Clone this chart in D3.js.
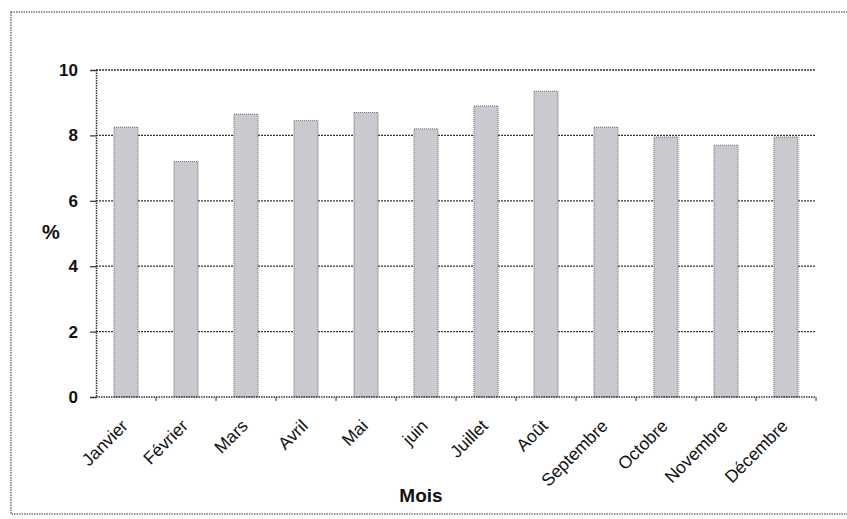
<!DOCTYPE html>
<html>
<head>
<meta charset="utf-8">
<script src="https://cdn.jsdelivr.net/npm/d3@7"></script>
<style>
  body { margin: 0; background: #fff; }
  svg { display: block; font-family: "Liberation Sans", Arial, sans-serif; }
</style>
</head>
<body>
<svg width="847" height="519"></svg>
<script>
// monthly values (%)
const months = ['Janvier', 'Février', 'Mars', 'Avril', 'Mai', 'juin', 'Juillet', 'Août', 'Septembre', 'Octobre', 'Novembre', 'Décembre']
const values = [8.25, 7.2, 8.65, 8.45, 8.7, 8.2, 8.9, 9.35, 8.25, 7.95, 7.7, 7.95]
const yTicks = [0, 2, 4, 6, 8, 10]

const svg = d3.select('svg')

// outer frame of the chart area
svg.append('rect')
  .attr('x', 11).attr('y', 12)
  .attr('width', 845).attr('height', 502)
  .attr('fill', 'none')
  .attr('stroke', '#777')
  .attr('stroke-width', 1.5)
  .attr('stroke-dasharray', '1.5,1')

const plotLeft = 96, plotRight = 816, plotTop = 70, plotBottom = 397

const x = d3.scaleBand()
  .domain(months)
  .range([plotLeft, plotRight])
  .paddingInner(0.6)
  .paddingOuter(0.3)

const y = d3.scaleLinear()
  .domain([0, 10])
  .range([plotBottom, plotTop])

// gridlines
svg.append('g')
  .selectAll('line')
  .data(yTicks.filter(d => d > 0))
  .enter()
  .append('line')
  .attr('x1', plotLeft).attr('x2', plotRight)
  .attr('y1', d => y(d)).attr('y2', d => y(d))
  .attr('stroke', '#333')
  .attr('stroke-width', 1.3)
  .attr('stroke-dasharray', '2,1')

// bars
svg.append('g')
  .selectAll('rect')
  .data(values)
  .enter()
  .append('rect')
  .attr('x', (d, i) => x(months[i]))
  .attr('y', d => y(d))
  .attr('width', x.bandwidth())
  .attr('height', d => plotBottom - y(d))
  .attr('fill', '#c9c9cf')
  .attr('stroke', '#666')
  .attr('stroke-width', 1)
  .attr('stroke-dasharray', '1,1')

// y axis
const yAxis = svg.append('g')
  .attr('transform', `translate(${plotLeft},0)`)
  .call(d3.axisLeft(y).tickValues(yTicks).tickSize(6).tickPadding(12))
yAxis.select('.domain').attr('stroke', '#333').attr('stroke-width', 1.5).attr('stroke-dasharray', '1.5,1')
yAxis.selectAll('.tick line').attr('stroke', '#333').attr('stroke-width', 1.2)
yAxis.selectAll('.tick text')
  .attr('font-size', 17).attr('font-weight', 'bold')
  .attr('font-family', '"Liberation Sans", Arial, sans-serif')
  .attr('fill', '#111')

// x axis: ticks sit between the categories
const xAxis = svg.append('g')
  .attr('transform', `translate(0,${plotBottom})`)
xAxis.append('line')
  .attr('x1', plotLeft).attr('x2', plotRight)
  .attr('stroke', '#333').attr('stroke-width', 1.5)
  .attr('stroke-dasharray', '1.5,1')
xAxis.selectAll('.sep')
  .data(months)
  .enter()
  .append('line')
  .attr('class', 'sep')
  .attr('x1', d => x(d) + x.bandwidth() / 2 + x.step() / 2)
  .attr('x2', d => x(d) + x.bandwidth() / 2 + x.step() / 2)
  .attr('y1', 0).attr('y2', 4)
  .attr('stroke', '#333')

xAxis.selectAll('.lbl')
  .data(months)
  .enter()
  .append('text')
  .attr('class', 'lbl')
  .attr('transform', d => `translate(${x(d) + x.bandwidth() / 2 + 3},${30}) rotate(-45)`)
  .attr('text-anchor', 'end')
  .attr('font-size', 17.5)
  .attr('fill', '#111')
  .text(d => d)

// axis titles
svg.append('text')
  .attr('x', 51).attr('y', 239)
  .attr('text-anchor', 'middle')
  .attr('font-size', 20).attr('font-weight', 'bold')
  .attr('fill', '#111')
  .text('%')

svg.append('text')
  .attr('x', 421).attr('y', 502)
  .attr('text-anchor', 'middle')
  .attr('font-size', 19).attr('font-weight', 'bold')
  .attr('fill', '#111')
  .text('Mois')
</script>
</body>
</html>
